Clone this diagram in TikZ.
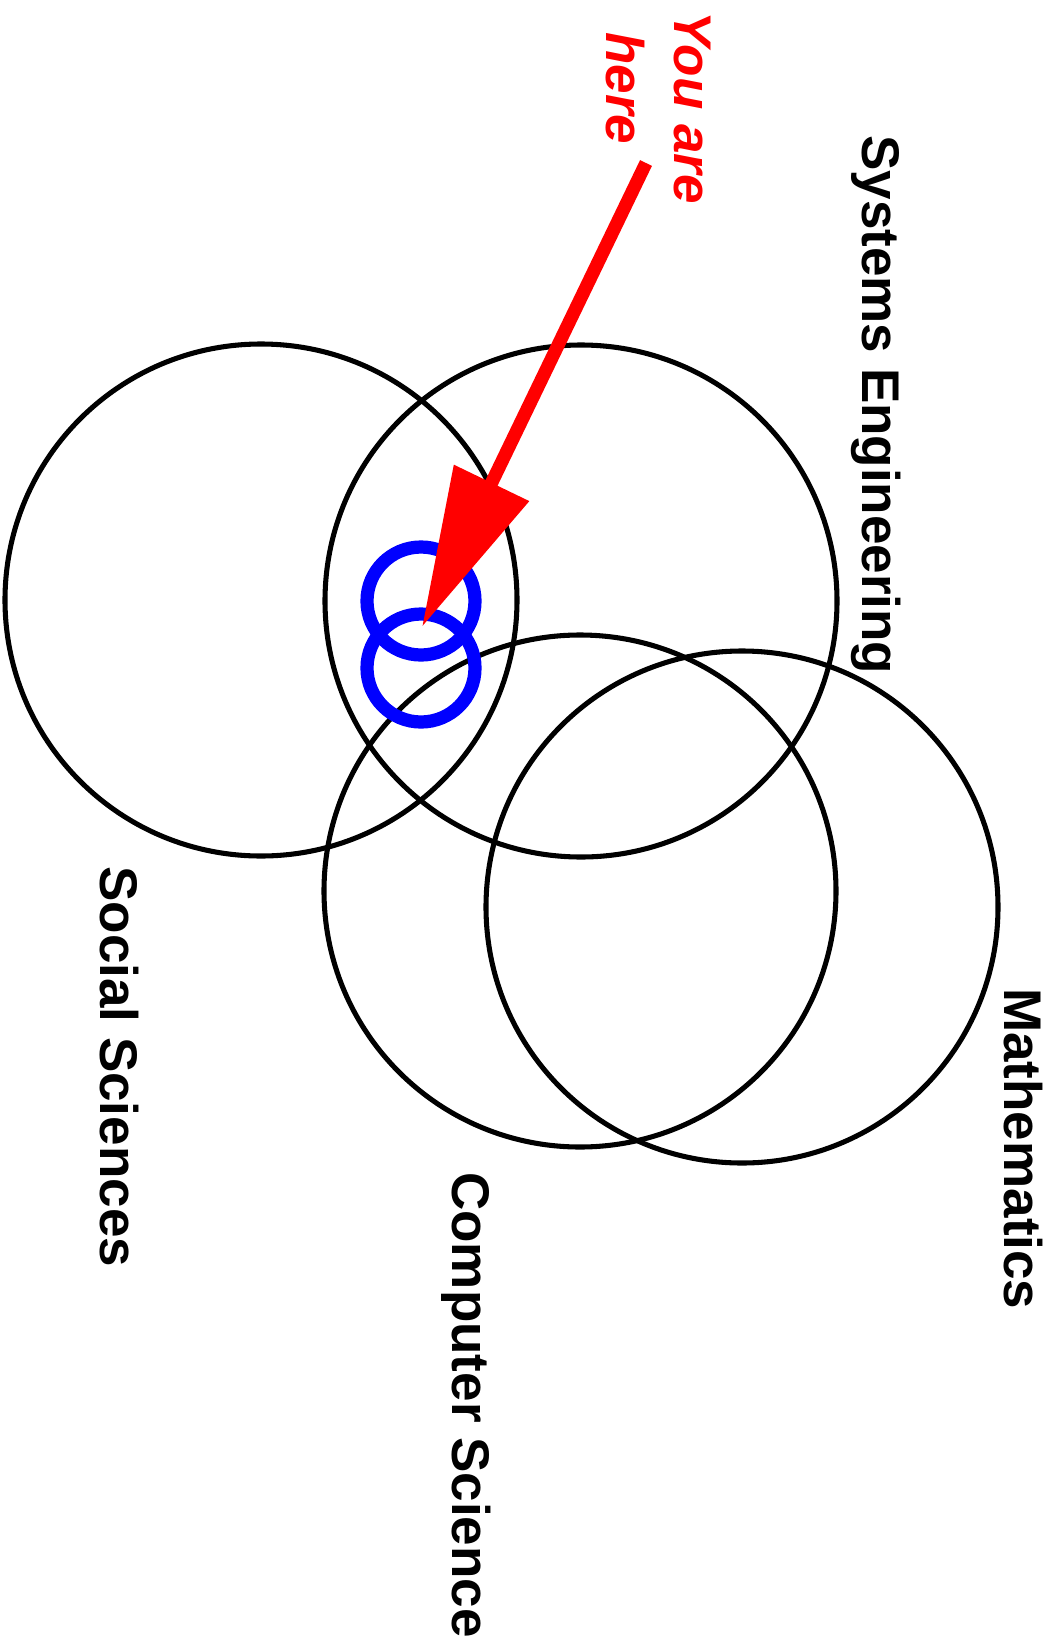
\documentclass[tikz,border=0pt]{standalone}
\usepackage{fontspec}
\setmainfont{Liberation Sans}
\usepackage{xcolor}
\usetikzlibrary{arrows.meta}
\definecolor{herec}{HTML}{FF0000}
\definecolor{ringc}{HTML}{0000FF}
\tikzset{
  field/.style={draw=black,line width=3.6pt},
  ring/.style={draw=ringc,line width=9.4pt},
  lbl/.style={rotate=-90,anchor=base west,inner sep=0pt,font=\fontsize{37.7}{46}\selectfont\bfseries},
  ar/.style={-{Triangle[length=4cm,width=2cm]},line width=9.4pt,herec}
}
\begin{document}
\begin{tikzpicture}[x=0.025cm,y=-0.025cm]
\useasboundingbox (0,0) rectangle (1058,1651);
% the four fields
\draw[field] (261,600) circle (256);
\draw[field] (581,601) circle (256);
\draw[field] (580,891) circle (256);
\draw[field] (742,907) circle (256);
\node[lbl] (syseng) at (862,135) {Systems Engineering};
\node[lbl] (socsci) at (100,866) {Social Sciences};
\node[lbl] (compsci) at (452,1172) {Computer Science};
\node[lbl] (maths) at (1004,988) {Mathematics};
% where we are
\draw[ring] (421,601) circle (54);
\draw[ring] (421,668) circle (54);
\coordinate (from) at (646,163);
\coordinate (to) at (422,627);
\draw[ar] (from) -- (to);
\node[lbl,herec,font=\fontsize{37.7}{46}\selectfont\bfseries\itshape] (youare) at (674,11) {You are};
\node[lbl,herec,font=\fontsize{37.7}{46}\selectfont\bfseries\itshape] (here) at (606,32) {here};
\end{tikzpicture}
\end{document}
